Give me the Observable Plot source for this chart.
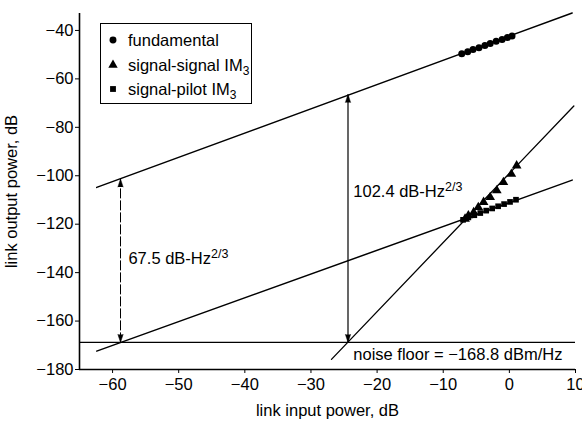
<!DOCTYPE html>
<html><head><meta charset="utf-8">
<script src="https://cdn.jsdelivr.net/npm/d3@7"></script>
<script src="https://cdn.jsdelivr.net/npm/@observablehq/plot@0.6"></script>
<style>
body{margin:0;background:#fff;}
#wrap{position:relative;width:582px;height:423px;font-family:"Liberation Sans",Arial,Helvetica,sans-serif;color:#000;}
#legend{position:absolute;left:100px;top:23px;width:152px;height:81px;border:1.3px solid #000;background:#fff;box-sizing:border-box;}
.row{position:absolute;left:0;height:22px;width:150px;font-size:16.5px;white-space:nowrap;}
.row svg{position:absolute;left:6px;top:5px;}
.row span{position:absolute;left:27px;top:1px;line-height:20px;}
.row sub{font-size:12px;vertical-align:-4px;line-height:0;}
</style></head>
<body><div id="wrap"><div id="legend"></div></div>
<script>
// ---- axes ----
const xDomain = [-65, 10];
const yDomain = [-180, -33];
const xTicks = [-60, -50, -40, -30, -20, -10, 0, 10];
const yTicks = [-180, -160, -140, -120, -100, -80, -60, -40];

// ---- measured points ----
const fundX = [-7.2, -6.3, -5.5, -4.6, -3.7, -2.9, -2.0, -1.1, -0.3, 0.4];
const fundY = [-49.6, -48.8, -47.9, -47.1, -46.2, -45.4, -44.5, -43.7, -42.9, -42.3];
const ssX = [-6.7, -6.2, -5.4, -4.7, -3.9, -2.9, -1.9, -0.9, 0.3, 1.1];
const ssY = [-117.8, -116.4, -115.1, -113.0, -110.9, -108.9, -106.1, -102.7, -99.3, -95.8];
const spX = [-7.0, -6.2, -5.3, -4.4, -3.5, -2.6, -1.7, -0.8, 0.1, 1.0];
const spY = [-118.2, -117.2, -116.3, -115.4, -114.4, -113.5, -112.6, -111.7, -110.8, -109.9];

// ---- fitted lines (end points) ----
const fundLineX = [-62.4, 9.5];
const fundLineY = [-104.8, -32.8];
const ssLineX = [-26.9, 9.75];
const ssLineY = [-175.8, -71.2];
const spLineX = [-62.4, 9.5];
const spLineY = [-172.4, -101.8];

// ---- noise floor & dynamic range arrows ----
const noiseFloor = -168.8;
const arrowX = [-58.8, -24.4];
const arrowValue = [67.5, 102.4];
const arrowLabels = ["67.5 dB-Hz^2/3", "102.4 dB-Hz^2/3"];
const arrowLabelX = [-57.6, -23.6];
const arrowLabelY = [-134.2, -106.5];
const noiseLabel = "noise floor = \u2212168.8 dBm/Hz";
const noiseLabelX = -23.6;
const noiseLabelY = -174.1;

// ---- legend ----
const legendLabels = ["fundamental", "signal-signal IM<sub>3</sub>", "signal-pilot IM<sub>3</sub>"];
const legendSymbols = ["circle", "triangle", "square"];

const pts = (xs, ys) => xs.map((x, i) => ({x, y: ys[i]}));
const arrows = arrowX.map((x, i) => ({x, y1: noiseFloor, y2: noiseFloor + arrowValue[i], i}));
const labels = arrowLabels.map((t, i) => ({t, x: arrowLabelX[i], y: arrowLabelY[i]}));

const font = "'Liberation Sans', Arial, Helvetica, sans-serif";
const plot = Plot.plot({
  width: 582, height: 423,
  marginLeft: 79, marginRight: 7, marginTop: 13, marginBottom: 54,
  style: {fontFamily: font, fontSize: "16.5px", background: "white", color: "black", overflow: "visible"},
  x: {domain: xDomain, ticks: xTicks, tickSize: 4, tickPadding: 5, label: "link input power, dB", labelAnchor: "center", labelOffset: 46, labelArrow: "none"},
  y: {domain: yDomain, ticks: yTicks, tickSize: 4, tickPadding: 2, label: "link output power, dB", labelAnchor: "center", labelOffset: 74, labelArrow: "none"},
  marks: [
    Plot.ruleX([xDomain[0]], {stroke: "black", strokeWidth: 1.6}),
    Plot.ruleY([yDomain[0]], {stroke: "black", strokeWidth: 1.6}),
    Plot.ruleY([noiseFloor], {stroke: "black", strokeWidth: 1.2}),
    Plot.line(pts(fundLineX, fundLineY), {x: "x", y: "y", stroke: "black", strokeWidth: 1.5}),
    Plot.line(pts(spLineX, spLineY), {x: "x", y: "y", stroke: "black", strokeWidth: 1.5}),
    Plot.line(pts(ssLineX, ssLineY), {x: "x", y: "y", stroke: "black", strokeWidth: 1.3}),
    Plot.link(arrows.filter(d => d.i === 0), {x1: "x", x2: "x", y1: "y1", y2: "y2", stroke: "black", strokeWidth: 1, strokeDasharray: "10,2"}),
    Plot.link(arrows.filter(d => d.i === 1), {x1: "x", x2: "x", y1: "y1", y2: "y2", stroke: "black", strokeWidth: 1.2}),
    Plot.vector(arrows, {x: "x", y: "y2", rotate: 0, length: 8, r: 2.6, shape: "spike", anchor: "end", fill: "black", stroke: "black", strokeWidth: 0.5}),
    Plot.vector(arrows, {x: "x", y: "y1", rotate: 180, length: 8, r: 2.6, shape: "spike", anchor: "end", fill: "black", stroke: "black", strokeWidth: 0.5}),
    Plot.dot(pts(fundX, fundY), {x: "x", y: "y", r: 3.5, symbol: "circle", fill: "black"}),
    Plot.dot(pts(ssX, ssY), {x: "x", y: "y", r: 3.6, symbol: "triangle", fill: "black"}),
    Plot.dot(pts(spX, spY), {x: "x", y: "y", r: 3.2, symbol: "square", fill: "black"}),
    Plot.text(labels, {x: "x", y: "y", text: "t", textAnchor: "start", lineAnchor: "middle", fill: "black", fontSize: 16.5}),
    Plot.text([noiseLabel], {x: () => noiseLabelX, y: () => noiseLabelY, text: d => d, textAnchor: "start", lineAnchor: "middle", fill: "black", fontSize: 16.5})
  ]
});

// superscripts
plot.querySelectorAll("text").forEach(t => {
  const s = t.textContent;
  if (s.includes("^") && t.children.length === 0) {
    const [a, b] = s.split("^");
    t.textContent = a;
    const ts = document.createElementNS("http://www.w3.org/2000/svg", "tspan");
    ts.setAttribute("dy", "-0.45em");
    ts.setAttribute("font-size", "12.5px");
    ts.textContent = b;
    t.appendChild(ts);
  }
});

const wrap = document.getElementById("wrap");
wrap.insertBefore(plot, wrap.firstChild);
plot.style.position = "absolute"; plot.style.left = "0"; plot.style.top = "0";

// legend
const legend = document.getElementById("legend");
const symMap = {circle: d3.symbolCircle, triangle: d3.symbolTriangle, square: d3.symbolSquare};
const symSize = {circle: 38, triangle: 38, square: 34};
const rowCenters = [16, 40.5, 65];
legendLabels.forEach((lab, i) => {
  const row = document.createElement("div");
  row.className = "row";
  row.style.top = (rowCenters[i] - 11) + "px";
  const path = d3.symbol(symMap[legendSymbols[i]], symSize[legendSymbols[i]])();
  row.innerHTML = `<svg width="12" height="12" viewBox="-6 -6 12 12"><path d="${path}" fill="black"/></svg><span>${lab}</span>`;
  legend.appendChild(row);
});
</script>
</body></html>
